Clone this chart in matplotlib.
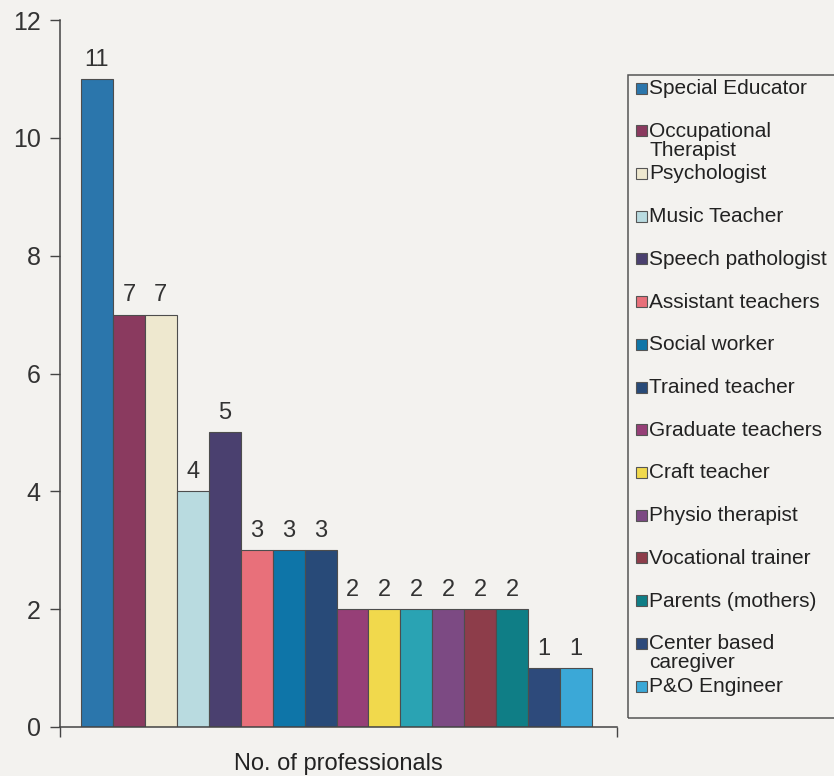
import matplotlib
matplotlib.use("Agg")
import matplotlib.pyplot as plt
from matplotlib.patches import Rectangle

plt.rcParams['font.family'] = ['Liberation Sans', 'DejaVu Sans']

# Professionals working with the children (one bar per group)
categories = [
    "Special Educator", "Occupational\nTherapist", "Psychologist", "Music Teacher",
    "Speech pathologist", "Assistant teachers", "Social worker", "Trained teacher",
    "Graduate teachers", "Craft teacher", "", "Physio therapist",
    "Vocational trainer", "Parents (mothers)", "Center based\ncaregiver", "P&O Engineer",
]
counts = [11, 7, 7, 4, 5, 3, 3, 3, 2, 2, 2, 2, 2, 2, 1, 1]
colors = [
    "#2b76ac", "#8a3a5f", "#eee8cf", "#b9dbe0", "#4a406f", "#e8707a", "#0e75a8", "#284a78",
    "#963f77", "#f1d94c", "#2aa3b3", "#7c4a83", "#8d3d4a", "#0f7e86", "#2d4a7b", "#3ba8d7",
]
y_ticks = [0, 2, 4, 6, 8, 10, 12]

W, H = 834, 776
bg = "#f3f2ef"
fig = plt.figure(figsize=(W / 100, H / 100), dpi=100, facecolor=bg)

left_px, right_px, top_px, bottom_px = 60, 617, 20, 727
ax = fig.add_axes([left_px / W, 1 - bottom_px / H,
                   (right_px - left_px) / W, (bottom_px - top_px) / H])
ax.set_facecolor("none")

x = list(range(len(counts)))
bars = ax.bar(x, counts, width=1.0, color=colors, edgecolor="#4d4d4d", linewidth=0.8)
for xi, v in zip(x, counts):
    ax.annotate(str(v), (xi, v), xytext=(0, 6), textcoords="offset points",
                ha="center", va="bottom", fontsize=17, color="#333333")

unit = (592 - 81) / 16
ax.set_xlim(-0.5 - (81 - left_px) / unit, 15.5 + (right_px - 592) / unit)
ax.set_ylim(0, 12)
ax.set_yticks(y_ticks)
ax.set_yticklabels([str(t) for t in y_ticks])
ax.set_xticks(ax.get_xlim())
ax.set_xticklabels(["", ""])
ax.tick_params(axis="y", direction="out", length=7, width=1, color="#444444",
               labelsize=18, labelcolor="#333333", pad=7)
ax.tick_params(axis="x", direction="out", length=7, width=1, color="#444444")
for side in ("top", "right"):
    ax.spines[side].set_visible(False)
for side in ("left", "bottom"):
    ax.spines[side].set_color("#444444")
    ax.spines[side].set_linewidth(1.1)
ax.set_xlabel("No. of professionals", fontsize=17, color="#222222", labelpad=8)

# Legend box with fixed-height slots
box_l, box_t, box_b = 628, 75, 718
fig.patches.append(Rectangle((box_l / W, 1 - box_b / H), (W + 20 - box_l) / W,
                             (box_b - box_t) / H, transform=fig.transFigure,
                             facecolor="none", edgecolor="#555555", linewidth=1.1))
legend_items = [(c, col) for c, col in zip(categories, colors) if c]
first_y, step = 88, (686 - 88) / 14
sq = 11
for i, (lab, col) in enumerate(legend_items):
    yc = first_y + i * step
    fig.patches.append(Rectangle((636 / W, 1 - (yc + sq / 2) / H), sq / W, sq / H,
                                 transform=fig.transFigure, facecolor=col,
                                 edgecolor="#555555", linewidth=0.8))
    fig.text(649 / W, 1 - (yc - 9) / H, lab, ha="left", va="top", fontsize=15,
             color="#222222", linespacing=1.0)

fig.savefig("out.png", dpi=100, facecolor=bg)
